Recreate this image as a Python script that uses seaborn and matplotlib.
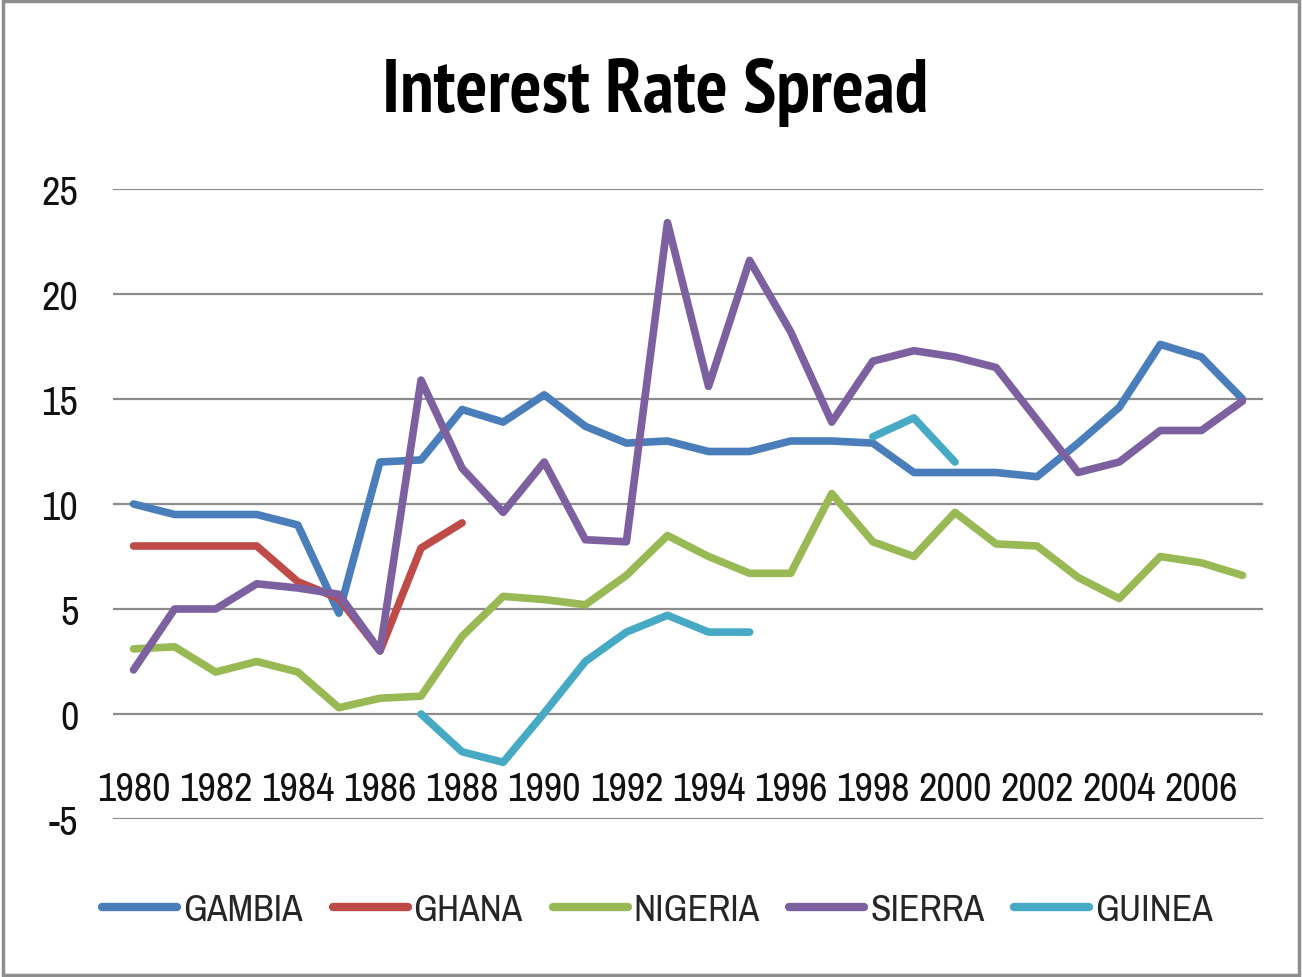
import numpy as np
import pandas as pd
import matplotlib
matplotlib.use("Agg")
import matplotlib.pyplot as plt
from matplotlib import font_manager
from matplotlib.patches import Rectangle
import seaborn as sns

years = list(range(1980, 2008))
nan = np.nan

gambia = [10.0, 9.5, 9.5, 9.5, 9.0, 4.8, 12.0, 12.1, 14.5, 13.9,
          15.2, 13.7, 12.9, 13.0, 12.5, 12.5, 13.0, 13.0, 12.9, 11.5,
          11.5, 11.5, 11.3, 12.9, 14.6, 17.6, 17.0, 15.0]
ghana = [8.0, 8.0, 8.0, 8.0, 6.3, 5.5, 3.0, 7.9, 9.1] + [nan] * 19
nigeria = [3.1, 3.2, 2.0, 2.5, 2.0, 0.3, 0.75, 0.85, 3.7, 5.6,
           5.45, 5.2, 6.6, 8.5, 7.5, 6.7, 6.7, 10.5, 8.2, 7.5,
           9.6, 8.1, 8.0, 6.5, 5.5, 7.5, 7.2, 6.6]
sierra = [2.1, 5.0, 5.0, 6.2, 6.0, 5.7, 3.0, 15.9, 11.7, 9.6,
          12.0, 8.3, 8.2, 23.4, 15.6, 21.6, 18.2, 13.9, 16.8, 17.3,
          17.0, 16.5, 14.0, 11.5, 12.0, 13.5, 13.5, 14.9]
guinea = [nan] * 7 + [0.0, -1.8, -2.3, 0.05, 2.5, 3.9, 4.7, 3.9, 3.9,
                      nan, nan, 13.2, 14.1, 12.0] + [nan] * 7

countries = ["GAMBIA", "GHANA", "NIGERIA", "SIERRA", "GUINEA"]
colors = ["#4A7EBB", "#BE4B48", "#98B954", "#7D60A0", "#46AAC5"]

# long form, with a segment id so gaps are not bridged
rows = []
for name, vals in zip(countries, [gambia, ghana, nigeria, sierra, guinea]):
    seg = 0
    prev_nan = True
    for yr, v in zip(years, vals):
        if np.isnan(v):
            prev_nan = True
            continue
        if prev_nan:
            seg += 1
        prev_nan = False
        rows.append({"year": yr, "value": v, "country": name, "seg": f"{name}{seg}"})
df = pd.DataFrame(rows)

sns.set_style("white")
plt.rcParams["axes.unicode_minus"] = False


# look for a narrow font (Calibri-like look)
def find_font(bold):
    fl = font_manager.fontManager.ttflist
    def ok(f):
        w = f.weight if isinstance(f.weight, int) else (700 if f.weight == "bold" else 400)
        return (w >= 600) == bold and f.style == "normal"
    prefs = [
        lambda f: "Narrow" in f.name,
        lambda f: "Condensed" in f.name and "Semi" not in f.name and "Extra" not in f.name,
        lambda f: f.stretch == "condensed",
        lambda f: "SemiCondensed" in f.fname or "Semi Condensed" in f.name,
    ]
    for p in prefs:
        for f in fl:
            if p(f) and ok(f):
                return f.fname
    return None


reg = find_font(False)
bld = find_font(True)
if reg:
    fp = font_manager.FontProperties(fname=reg, size=29)
    fpl = font_manager.FontProperties(fname=reg, size=27)
else:
    fp = font_manager.FontProperties(family="Liberation Sans", size=24)
    fpl = font_manager.FontProperties(family="Liberation Sans", size=22)
if bld:
    fpt = font_manager.FontProperties(fname=bld, size=54)
else:
    fpt = font_manager.FontProperties(family="Liberation Sans", size=40, weight="bold")

fig = plt.figure(figsize=(13.02, 9.78), dpi=100)
ax = fig.add_axes([113 / 1302, 1 - 820 / 978, 1150 / 1302, 630 / 978])

sns.lineplot(data=df, x="year", y="value", hue="country", hue_order=countries,
             palette=colors, units="seg", estimator=None, linewidth=5.5,
             ax=ax, legend=True)

ax.set_xlim(1979.5, 2007.5)
ax.set_ylim(-5, 25)
ax.set_yticks(range(-5, 26, 5))
ax.set_xticks(range(1980, 2007, 2))
ax.yaxis.grid(True, color="#8c8c8c", linewidth=1.6)
ax.set_axisbelow(True)
for s in ax.spines.values():
    s.set_visible(False)
ax.spines["bottom"].set_position(("data", 0))
ax.tick_params(axis="x", length=0, pad=40, colors="#111111")
ax.tick_params(axis="y", length=0, pad=25, colors="#111111")
for lab in ax.get_xticklabels() + ax.get_yticklabels():
    lab.set_fontproperties(fp)
ax.set_xlabel("")
ax.set_ylabel("")

handles, labels = ax.get_legend_handles_labels()
ax.get_legend().remove()
for h in handles:
    h.set_linewidth(6)
fig.legend(handles, labels, loc="center", bbox_to_anchor=(0.505, 0.069),
           ncol=5, frameon=False, prop=fpl, handlelength=2.0,
           handletextpad=0.15, columnspacing=0.8)

fig.text(0.503, 0.905, "Interest Rate Spread", ha="center", va="center",
         fontproperties=fpt, color="black")

fig.patches.append(Rectangle((0.002, 0.002), 0.996, 0.996, transform=fig.transFigure,
                             fill=False, edgecolor="#8e8e8e", linewidth=2.5))

fig.savefig("out.png", dpi=100)
